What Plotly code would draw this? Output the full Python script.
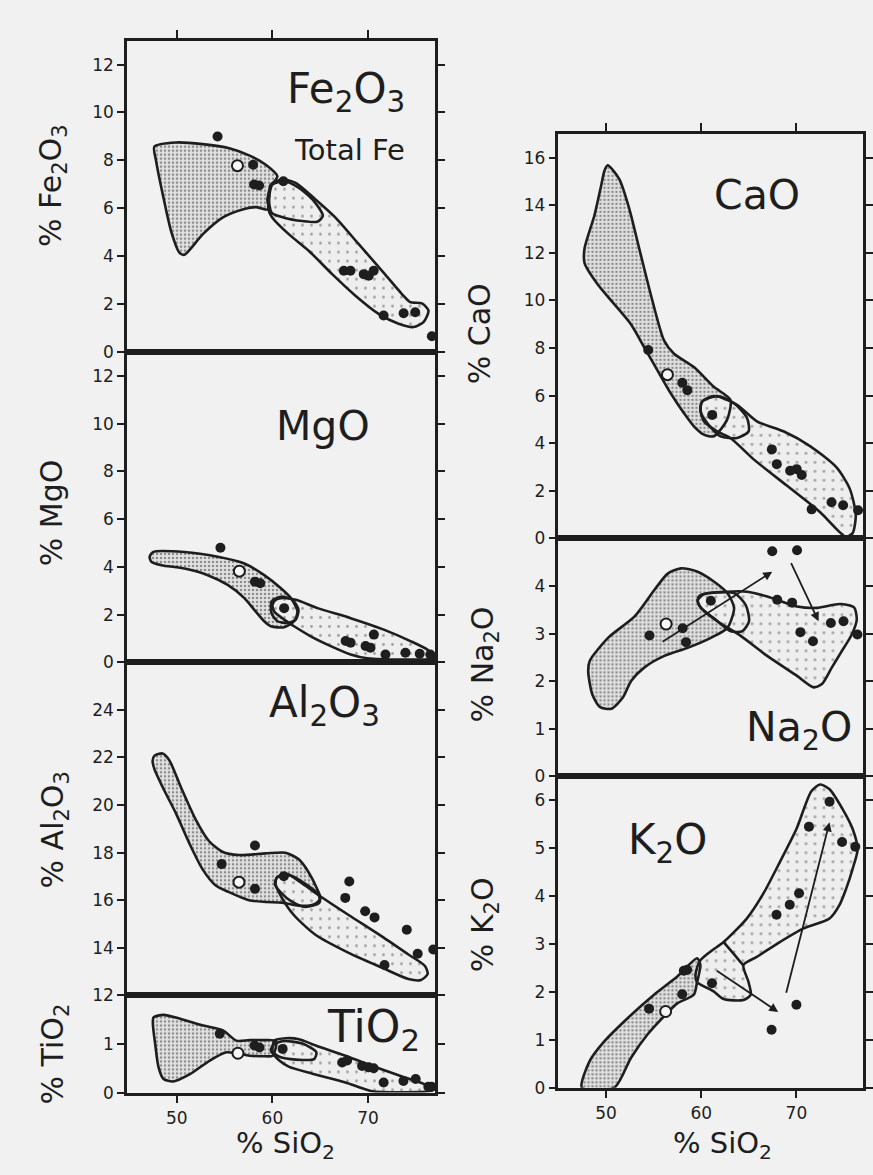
import plotly.graph_objects as go

# ---------------- data (wt %) ----------------
# x values are % SiO2 for every panel
# ---- Fe2O3 (total Fe) ----
fe_mafic_x = [47.67, 49.93, 52.71, 55.49, 57.57, 59.31, 60.52, 59.83, 59.48, 59.58, 58.26, 56.88, 54.79, 52.71, 50.80, 50.28, 49.41, 48.54, 47.85, 47.67]
fe_mafic_y = [8.58, 8.75, 8.68, 8.51, 8.21, 7.82, 7.34, 6.92, 6.37, 5.95, 6.05, 5.95, 5.61, 4.91, 4.06, 4.15, 5.05, 6.58, 7.96, 8.58]
fe_felsic_x = [59.83, 61.04, 62.43, 64.51, 66.60, 69.03, 71.46, 73.54, 74.41, 75.63, 76.32, 75.80, 74.76, 73.19, 71.11, 68.68, 66.25, 63.82, 61.74, 60.00, 59.58, 59.65, 59.83]
fe_felsic_y = [6.99, 7.20, 7.06, 6.37, 5.61, 4.50, 3.39, 2.42, 2.08, 2.03, 1.73, 1.25, 1.04, 1.18, 1.59, 2.35, 3.25, 4.22, 4.91, 5.61, 5.95, 6.44, 6.99]
fe_ring_x = [60.00, 61.22, 62.78, 64.34, 65.28, 64.69, 63.13, 61.22, 59.93, 59.65, 60.00]
fe_ring_y = [6.99, 7.13, 6.85, 6.30, 5.68, 5.44, 5.47, 5.61, 5.81, 6.37, 6.99]
fe_pts_x = [54.27, 57.99, 58.09, 58.61, 61.15, 67.47, 68.16, 69.55, 70.07, 70.59, 71.63, 73.72, 74.93, 76.67]
fe_pts_y = [9.00, 7.82, 6.99, 6.95, 7.13, 3.39, 3.39, 3.25, 3.18, 3.39, 1.52, 1.62, 1.66, 0.66]
fe_open_x = [56.35]
fe_open_y = [7.78]

# ---- MgO ----
mg_mafic_x = [47.52, 50.82, 54.29, 57.07, 59.15, 60.89, 61.93, 62.62, 62.27, 61.23, 59.84, 59.15, 58.11, 57.07, 55.33, 53.25, 50.82, 48.39, 47.35, 47.17, 47.52]
mg_mafic_y = [4.62, 4.62, 4.42, 4.14, 3.65, 3.10, 2.69, 2.13, 1.72, 1.47, 1.51, 1.72, 2.20, 2.69, 3.24, 3.65, 3.93, 4.07, 4.21, 4.42, 4.62]
mg_felsic_x = [60.89, 62.45, 64.71, 68.18, 71.65, 74.43, 76.16, 76.90, 76.86, 69.92, 68.18, 66.10, 64.01, 62.27, 61.23, 60.19, 60.02, 60.36, 60.89]
mg_felsic_y = [2.69, 2.62, 2.27, 1.85, 1.37, 0.89, 0.54, 0.26, 0.17, 0.17, 0.33, 0.68, 1.09, 1.51, 1.79, 2.13, 2.41, 2.62, 2.69]
mg_ring_x = [59.91, 60.89, 62.10, 62.73, 62.45, 61.58, 60.54, 59.91, 59.91]
mg_ring_y = [2.55, 2.75, 2.62, 2.20, 1.79, 1.65, 1.72, 2.06, 2.55]
mg_pts_x = [54.57, 58.18, 58.73, 61.23, 67.66, 68.18, 69.74, 70.26, 70.61, 71.82, 73.91, 75.40, 76.51]
mg_pts_y = [4.80, 3.38, 3.31, 2.27, 0.89, 0.82, 0.68, 0.61, 1.16, 0.33, 0.40, 0.36, 0.33]
mg_open_x = [56.55]
mg_open_y = [3.82]

# ---- Al2O3 ----
al_mafic_x = [47.66, 48.52, 49.22, 50.43, 52.00, 53.39, 54.77, 56.51, 59.29, 61.37, 62.76, 63.80, 64.67, 65.02, 64.32, 62.76, 61.02, 59.29, 57.55, 55.47, 54.08, 52.69, 51.30, 49.91, 48.52, 47.66, 47.48, 47.66]
al_mafic_y = [22.07, 22.17, 21.89, 20.76, 19.38, 18.48, 18.04, 17.90, 17.97, 18.00, 17.72, 17.17, 16.48, 16.07, 15.82, 15.77, 15.90, 15.93, 16.00, 16.34, 16.62, 17.31, 18.41, 19.66, 20.76, 21.52, 21.86, 22.07]
al_felsic_x = [60.50, 61.55, 62.93, 64.84, 67.97, 71.44, 74.22, 75.95, 76.23, 75.54, 74.22, 71.44, 67.97, 64.50, 62.24, 60.85, 60.33, 60.50]
al_felsic_y = [16.97, 17.10, 16.76, 16.21, 15.38, 14.48, 13.72, 13.24, 12.90, 12.65, 12.69, 13.17, 13.79, 14.55, 15.38, 16.21, 16.69, 16.97]
al_ring_x = [60.50, 61.72, 63.45, 64.84, 64.91, 63.45, 62.07, 60.85, 60.26, 60.50]
al_ring_y = [16.97, 17.06, 16.69, 16.23, 15.90, 15.72, 15.93, 16.34, 16.69, 16.97]
al_pts_x = [58.18, 54.70, 58.18, 61.20, 68.04, 67.62, 69.70, 70.68, 74.05, 75.19, 76.82, 71.72]
al_pts_y = [18.30, 17.52, 16.48, 17.01, 16.79, 16.10, 15.54, 15.28, 14.76, 13.75, 13.93, 13.28]
al_open_x = [56.51]
al_open_y = [16.76]

# ---- TiO2 ----
ti_mafic_x = [47.58, 48.62, 50.35, 52.77, 54.84, 56.23, 57.61, 59.00, 60.38, 60.03, 59.00, 57.61, 56.23, 55.19, 53.46, 51.38, 49.65, 48.62, 48.10, 47.75, 47.51, 47.58]
ti_mafic_y = [1.55, 1.60, 1.52, 1.38, 1.28, 1.07, 1.08, 1.08, 1.06, 0.76, 0.75, 0.76, 0.81, 0.83, 0.66, 0.38, 0.23, 0.28, 0.52, 1.00, 1.41, 1.55]
ti_felsic_x = [60.21, 61.42, 62.80, 64.53, 67.65, 71.11, 73.88, 75.95, 76.82, 70.42, 67.65, 64.19, 61.76, 60.73, 60.03, 60.21]
ti_felsic_y = [1.07, 1.12, 1.10, 0.97, 0.76, 0.50, 0.31, 0.17, 0.05, 0.03, 0.21, 0.39, 0.53, 0.66, 0.83, 1.07]
ti_ring_x = [60.03, 61.07, 63.15, 64.60, 64.36, 62.46, 60.73, 59.86, 60.03]
ti_ring_y = [0.97, 1.06, 1.01, 0.83, 0.69, 0.68, 0.74, 0.85, 0.97]
ti_pts_x = [54.50, 58.13, 58.65, 61.07, 67.30, 67.82, 69.38, 70.07, 70.59, 71.63, 73.70, 74.98, 76.30, 76.64]
ti_pts_y = [1.21, 0.97, 0.93, 0.90, 0.62, 0.66, 0.55, 0.52, 0.50, 0.21, 0.24, 0.28, 0.12, 0.12]
ti_open_x = [56.40]
ti_open_y = [0.81]

# ---- CaO ----
ca_mafic_x = [50.17, 51.39, 52.44, 53.48, 54.70, 56.10, 57.14, 59.23, 61.32, 63.07, 62.72, 61.32, 60.28, 59.23, 58.19, 56.79, 55.40, 54.01, 52.61, 50.87, 49.13, 47.74, 47.74, 48.78, 49.48, 49.83, 50.17]
ca_mafic_y = [15.68, 15.10, 13.85, 12.19, 10.25, 8.31, 7.76, 7.20, 6.37, 5.82, 4.99, 4.29, 4.36, 4.71, 5.26, 6.10, 7.06, 8.03, 9.00, 9.84, 10.67, 11.57, 12.19, 13.58, 14.82, 15.45, 15.68]
ca_felsic_x = [60.10, 61.67, 63.76, 65.85, 68.64, 71.43, 74.22, 75.61, 76.24, 75.89, 75.19, 72.47, 68.99, 65.51, 63.07, 61.67, 60.28, 59.93, 60.10]
ca_felsic_y = [5.75, 5.98, 5.61, 4.92, 4.50, 3.88, 2.98, 2.08, 0.97, 0.21, 0.07, 1.11, 2.22, 3.32, 4.22, 4.50, 4.92, 5.40, 5.75]
ca_ring_x = [60.10, 61.32, 63.41, 64.81, 64.98, 63.76, 62.02, 60.63, 59.93, 60.10]
ca_ring_y = [5.75, 5.98, 5.68, 5.06, 4.50, 4.22, 4.29, 4.85, 5.33, 5.75]
ca_pts_x = [54.43, 58.01, 58.54, 61.15, 67.42, 67.94, 69.34, 70.03, 70.56, 71.60, 73.69, 74.91, 76.48]
ca_pts_y = [7.92, 6.54, 6.23, 5.19, 3.74, 3.12, 2.84, 2.91, 2.66, 1.22, 1.52, 1.39, 1.18]
ca_open_x = [56.45]
ca_open_y = [6.88]

# ---- Na2O ----
na_mafic_x = [48.29, 50.21, 53.00, 55.09, 56.48, 57.87, 59.62, 61.36, 62.75, 63.45, 62.75, 61.01, 58.57, 56.13, 54.04, 52.65, 51.78, 50.56, 49.34, 48.54, 48.12, 48.29]
na_mafic_y = [2.43, 2.91, 3.36, 3.92, 4.26, 4.37, 4.30, 4.09, 3.85, 3.54, 3.12, 2.91, 2.70, 2.53, 2.29, 2.01, 1.66, 1.42, 1.46, 1.73, 2.22, 2.43]
na_felsic_x = [59.62, 60.31, 62.75, 64.84, 66.93, 70.07, 72.16, 74.60, 76.06, 76.34, 75.82, 74.77, 73.73, 72.68, 71.81, 70.07, 66.93, 64.15, 61.71, 59.97, 59.62]
na_felsic_y = [3.69, 3.83, 3.88, 3.88, 3.78, 3.57, 3.54, 3.62, 3.55, 3.29, 2.98, 2.63, 2.29, 1.94, 1.87, 2.11, 2.53, 2.95, 3.26, 3.54, 3.69]
na_ring_x = [59.97, 63.45, 64.67, 65.02, 64.32, 63.10, 61.71, 59.97, 59.62, 59.97]
na_ring_y = [3.81, 3.85, 3.60, 3.26, 3.05, 3.05, 3.26, 3.54, 3.71, 3.81]
na_pts_x = [67.46, 70.07, 61.01, 58.05, 54.56, 58.40, 67.98, 69.55, 70.42, 71.74, 73.62, 74.95, 76.41]
na_pts_y = [4.73, 4.75, 3.69, 3.11, 2.96, 2.82, 3.71, 3.65, 3.03, 2.84, 3.22, 3.26, 2.98]
na_open_x = [56.31]
na_open_y = [3.20]
na_arrow_tail_x = [55.78, 69.37]
na_arrow_tail_y = [2.81, 4.51]
na_arrow_head_x = [67.46, 72.33]
na_arrow_head_y = [4.30, 3.26]

# ---- K2O ----
k_mafic_x = [47.46, 48.26, 49.83, 52.26, 55.04, 57.48, 59.57, 59.91, 59.57, 59.22, 57.48, 56.09, 54.35, 52.61, 50.87, 47.46]
k_mafic_y = [0.00, 0.55, 0.97, 1.45, 1.94, 2.32, 2.70, 2.56, 2.21, 1.94, 1.76, 1.49, 1.11, 0.62, 0.00, 0.00]
k_felsic_x = [60.96, 62.35, 64.78, 66.52, 68.26, 70.00, 71.57, 72.50, 73.48, 74.87, 75.91, 76.43, 75.91, 75.22, 74.52, 73.48, 70.70, 68.26, 65.83, 64.43, 64.96, 65.20, 64.43, 62.35, 61.30, 59.57, 59.39, 59.84, 60.96]
k_felsic_y = [2.84, 3.04, 3.53, 4.05, 4.71, 5.40, 6.19, 6.33, 6.23, 5.81, 5.40, 4.98, 4.57, 4.15, 3.81, 3.53, 3.32, 3.04, 2.73, 2.56, 2.21, 1.94, 1.83, 1.85, 2.01, 2.20, 2.35, 2.64, 2.84]
k_ring_x = [62.35, 63.39, 64.43]
k_ring_y = [3.04, 2.80, 2.55]
k_pts_x = [73.48, 71.32, 74.80, 76.19, 70.28, 69.30, 67.91, 58.17, 58.52, 58.00, 61.13, 54.52, 70.00, 67.39]
k_pts_y = [5.97, 5.45, 5.13, 5.03, 4.06, 3.82, 3.61, 2.44, 2.46, 1.95, 2.18, 1.65, 1.73, 1.21]
k_open_x = [56.26]
k_open_y = [1.59]
k_arrow_tail_x = [61.48, 68.89]
k_arrow_tail_y = [2.46, 1.95]
k_arrow_head_x = [68.09, 73.48]
k_arrow_head_y = [1.58, 5.54]

# ---- axis ticks / labels ----
x_ticks = [50, 60, 70]
fe_ticks = [0, 2, 4, 6, 8, 10, 12]
mg_ticks = [0, 2, 4, 6, 8, 10, 12]
al_ticks = [12, 14, 16, 18, 20, 22, 24]
ti_ticks = [0, 1]
ca_ticks = [0, 2, 4, 6, 8, 10, 12, 14, 16]
na_ticks = [0, 1, 2, 3, 4]
k_ticks = [0, 1, 2, 3, 4, 5, 6]

# ---------------- styling / layout ----------------
W, H = 873, 1175
FONT = "DejaVu Sans"
INK = "#1e1e1e"
PAPER = "#f1f1f1"

LEFT = (128, 439)
RIGHT = (563, 870)

panels = [
    dict(col=LEFT, ybox=(41, 355), yr=[0, 13], yt=fe_ticks, xpos="top",
         mafic=(fe_mafic_x, fe_mafic_y), felsic=(fe_felsic_x, fe_felsic_y), ring=(fe_ring_x, fe_ring_y),
         pts=(fe_pts_x, fe_pts_y), opn=(fe_open_x, fe_open_y)),
    dict(col=LEFT, ybox=(355, 668), yr=[0, 13], yt=mg_ticks, xpos="none",
         mafic=(mg_mafic_x, mg_mafic_y), felsic=(mg_felsic_x, mg_felsic_y), ring=(mg_ring_x, mg_ring_y),
         pts=(mg_pts_x, mg_pts_y), opn=(mg_open_x, mg_open_y)),
    dict(col=LEFT, ybox=(668, 1004), yr=[12, 26], yt=al_ticks, xpos="none",
         mafic=(al_mafic_x, al_mafic_y), felsic=(al_felsic_x, al_felsic_y), ring=(al_ring_x, al_ring_y),
         pts=(al_pts_x, al_pts_y), opn=(al_open_x, al_open_y)),
    dict(col=LEFT, ybox=(1004, 1102), yr=[0, 2], yt=ti_ticks, xpos="bottom",
         mafic=(ti_mafic_x, ti_mafic_y), felsic=(ti_felsic_x, ti_felsic_y), ring=(ti_ring_x, ti_ring_y),
         pts=(ti_pts_x, ti_pts_y), opn=(ti_open_x, ti_open_y)),
    dict(col=RIGHT, ybox=(135, 543), yr=[0, 17], yt=ca_ticks, xpos="top",
         mafic=(ca_mafic_x, ca_mafic_y), felsic=(ca_felsic_x, ca_felsic_y), ring=(ca_ring_x, ca_ring_y),
         pts=(ca_pts_x, ca_pts_y), opn=(ca_open_x, ca_open_y)),
    dict(col=RIGHT, ybox=(543, 783), yr=[0, 5], yt=na_ticks, xpos="none",
         mafic=(na_mafic_x, na_mafic_y), felsic=(na_felsic_x, na_felsic_y), ring=(na_ring_x, na_ring_y),
         pts=(na_pts_x, na_pts_y), opn=(na_open_x, na_open_y)),
    dict(col=RIGHT, ybox=(783, 1097), yr=[0, 6.5], yt=k_ticks, xpos="bottom",
         mafic=(k_mafic_x, k_mafic_y), felsic=(k_felsic_x, k_felsic_y), ring=(k_ring_x, k_ring_y),
         pts=(k_pts_x, k_pts_y), opn=(k_open_x, k_open_y)),
]

DENSE = dict(shape=".", fgcolor="#363636", bgcolor="#e2e2e2", size=4, solidity=0.3)
SPARSE = dict(shape=".", fgcolor="#555555", bgcolor="#eeeeee", size=9, solidity=0.08)

fig = go.Figure()
layout = {}

for i, p in enumerate(panels, start=1):
    sfx = "" if i == 1 else str(i)
    xa, ya = "x" + sfx, "y" + sfx
    common = dict(xaxis=xa, yaxis=ya, showlegend=False, hoverinfo="skip")
    fig.add_trace(go.Scatter(x=p["mafic"][0], y=p["mafic"][1], mode="lines", fill="toself",
                             fillcolor="#e2e2e2", fillpattern=DENSE,
                             line=dict(width=0, shape="spline", smoothing=0.7, color=INK), **common))
    fig.add_trace(go.Scatter(x=p["felsic"][0], y=p["felsic"][1], mode="lines", fill="toself",
                             fillcolor="#eeeeee", fillpattern=SPARSE,
                             line=dict(width=0, shape="spline", smoothing=0.7, color=INK), **common))
    for key in ("mafic", "felsic", "ring"):
        fig.add_trace(go.Scatter(x=p[key][0], y=p[key][1], mode="lines",
                                 line=dict(width=2.6, shape="spline", smoothing=0.7, color=INK), **common))
    fig.add_trace(go.Scatter(x=p["pts"][0], y=p["pts"][1], mode="markers",
                             marker=dict(size=10, color=INK, line=dict(width=0)), **common))
    fig.add_trace(go.Scatter(x=p["opn"][0], y=p["opn"][1], mode="markers",
                             marker=dict(size=11, color="#f7f7f7", line=dict(width=2, color=INK)), **common))

    x0, x1 = p["col"]
    top, bot = p["ybox"]
    xr = [44.8, 77.05] if p["col"] == LEFT else [45.0, 77.0]
    xdict = dict(domain=[x0 / W, x1 / W], range=xr, anchor=ya, showgrid=False, zeroline=False,
                 showline=True, linewidth=2.6, linecolor=INK, mirror=True, fixedrange=True,
                 tickvals=x_ticks, tickcolor=INK, tickwidth=2, ticklen=8,
                 tickfont=dict(family=FONT, size=17, color=INK))
    if p["xpos"] == "top":
        xdict.update(side="top", ticks="outside", showticklabels=False)
    elif p["xpos"] == "bottom":
        xdict.update(side="bottom", ticks="outside", showticklabels=True)
    else:
        xdict.update(ticks="", showticklabels=False)
    ydict = dict(domain=[1 - bot / H, 1 - top / H], range=p["yr"], anchor=xa, showgrid=False,
                 zeroline=False, showline=True, linewidth=2.6, linecolor=INK, mirror="ticks",
                 ticks="outside", ticklen=7, tickwidth=2, tickcolor=INK, tickvals=p["yt"],
                 tickfont=dict(family=FONT, size=17, color=INK), fixedrange=True)
    layout["xaxis" + sfx] = xdict
    layout["yaxis" + sfx] = ydict

annotations = []


def txt(text, px, py, size, angle=0):
    annotations.append(dict(text=text, x=px / W, y=1 - py / H, xref="paper", yref="paper",
                            showarrow=False, textangle=angle, xanchor="center", yanchor="middle",
                            font=dict(family=FONT, size=size, color=INK)))


# axis titles
txt("% Fe<sub>2</sub>O<sub>3</sub>", 53, 187, 30, -90)
txt("% MgO", 52, 517, 30, -90)
txt("% Al<sub>2</sub>O<sub>3</sub>", 55, 837, 30, -90)
txt("% TiO<sub>2</sub>", 55, 1063, 30, -90)
txt("% CaO", 483, 337, 30, -90)
txt("% Na<sub>2</sub>O", 488, 670, 30, -90)
txt("% K<sub>2</sub>O", 488, 933, 30, -90)
txt("% SiO<sub>2</sub>", 288, 1155, 29)
txt("% SiO<sub>2</sub>", 728, 1155, 29)
# panel labels
txt("Fe<sub>2</sub>O<sub>3</sub>", 349, 92, 42)
txt("Total Fe", 352, 151, 29)
txt("MgO", 326, 430, 41)
txt("Al<sub>2</sub>O<sub>3</sub>", 327, 712, 42)
txt("TiO<sub>2</sub>", 377, 1038, 44)
txt("CaO", 763, 197, 41)
txt("Na<sub>2</sub>O", 805, 736, 41)
txt("K<sub>2</sub>O", 673, 850, 42)

for tx, ty, hx, hy in zip(na_arrow_tail_x, na_arrow_tail_y, na_arrow_head_x, na_arrow_head_y):
    annotations.append(dict(x=hx, y=hy, ax=tx, ay=ty, xref="x6", yref="y6", axref="x6", ayref="y6",
                            text="", showarrow=True, arrowhead=2, arrowsize=1, arrowwidth=1.8,
                            arrowcolor=INK))
for tx, ty, hx, hy in zip(k_arrow_tail_x, k_arrow_tail_y, k_arrow_head_x, k_arrow_head_y):
    annotations.append(dict(x=hx, y=hy, ax=tx, ay=ty, xref="x7", yref="y7", axref="x7", ayref="y7",
                            text="", showarrow=True, arrowhead=2, arrowsize=1, arrowwidth=1.8,
                            arrowcolor=INK))

# the figure fills the browser window (873 x 1175), so panel domains land on the same pixels
fig.update_layout(autosize=True, margin=dict(l=0, r=0, t=0, b=0),
                  paper_bgcolor=PAPER, plot_bgcolor=PAPER, showlegend=False,
                  annotations=annotations, **layout)

fig.write_html("out.html", config={"displayModeBar": False},
               default_width="100vw", default_height="100vh",
               post_script=("document.documentElement.style.cssText='margin:0;padding:0;overflow:hidden;background:#f1f1f1';"
                            "document.body.style.cssText='margin:0;padding:0;overflow:hidden;background:#f1f1f1';"
                            "Plotly.Plots.resize(document.getElementById('{plot_id}'));"))
